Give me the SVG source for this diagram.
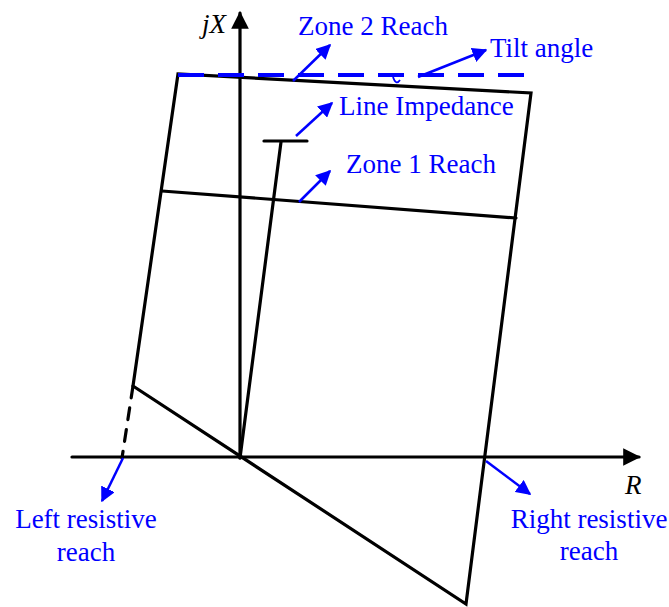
<svg xmlns="http://www.w3.org/2000/svg" width="669" height="607" viewBox="0 0 669 607">
<style>
.k{stroke:#000;stroke-width:3.2;fill:none;stroke-linecap:round}
.b{stroke:#0000ff;stroke-width:2.5;fill:none}
.t{font-family:"Liberation Serif","Times New Roman",serif;font-size:27px;fill:#0000ff}
.i{font-family:"Liberation Serif","Times New Roman",serif;font-size:27px;font-style:italic;fill:#000}
</style>
<defs>
<marker id="ba" viewBox="0 0 10 10" refX="9" refY="5" markerWidth="6" markerHeight="6" markerUnits="strokeWidth" orient="auto"><path d="M0,0 L10,5 L0,10 z" fill="#0000ff"/></marker>
<marker id="ka" viewBox="0 0 10 10" refX="9" refY="5" markerWidth="6.5" markerHeight="5.5" markerUnits="strokeWidth" orient="auto"><path d="M0,0 L10,5 L0,10 z" fill="#000"/></marker>
</defs>
<g id="axes">
<line class="k" x1="72" y1="457" x2="639" y2="457" marker-end="url(#ka)"/>
<line class="k" x1="240" y1="458" x2="240" y2="13" marker-end="url(#ka)"/>
<text class="i" x="202" y="33">jX</text>
<text class="i" x="625" y="494">R</text>
</g>
<g id="characteristic">
<path class="k" d="M133,386 L178,74 L531,93 L466,604 L133,386" stroke-linejoin="miter"/>
<path class="k" d="M133,386 L122,458" stroke-dasharray="12,10" stroke-linecap="butt"/>
<line class="k" x1="162" y1="191" x2="516" y2="218"/>
<line class="k" x1="240" y1="458" x2="281" y2="142"/>
<line class="k" x1="264" y1="141" x2="307" y2="141"/>
<line x1="178" y1="75" x2="528" y2="75" stroke="#0000ff" stroke-width="4" stroke-dasharray="26,14"/>
<path d="M393,77 Q396,86 400,80" stroke="#0000ff" stroke-width="1.8" fill="none"/>
</g>
<g id="connectors">
<line class="b" x1="293" y1="81" x2="330" y2="45" marker-end="url(#ba)"/>
<line class="b" x1="418" y1="77" x2="486" y2="50" marker-end="url(#ba)"/>
<line class="b" x1="296" y1="136" x2="332" y2="103" marker-end="url(#ba)"/>
<line class="b" x1="299" y1="202" x2="330" y2="171" marker-end="url(#ba)"/>
<line class="b" x1="123" y1="458" x2="102" y2="501" marker-end="url(#ba)"/>
<line class="b" x1="486" y1="461" x2="530" y2="494" marker-end="url(#ba)"/>
</g>
<g id="labels">
<text class="t" x="298" y="35">Zone 2 Reach</text>
<text class="t" x="490" y="57">Tilt angle</text>
<text class="t" x="339" y="115">Line Impedance</text>
<text class="t" x="346" y="173">Zone 1 Reach</text>
<text class="t" x="86" y="528" text-anchor="middle">Left resistive</text>
<text class="t" x="86" y="561" text-anchor="middle">reach</text>
<text class="t" x="589" y="528" text-anchor="middle">Right resistive</text>
<text class="t" x="589" y="560" text-anchor="middle">reach</text>
</g>
</svg>
